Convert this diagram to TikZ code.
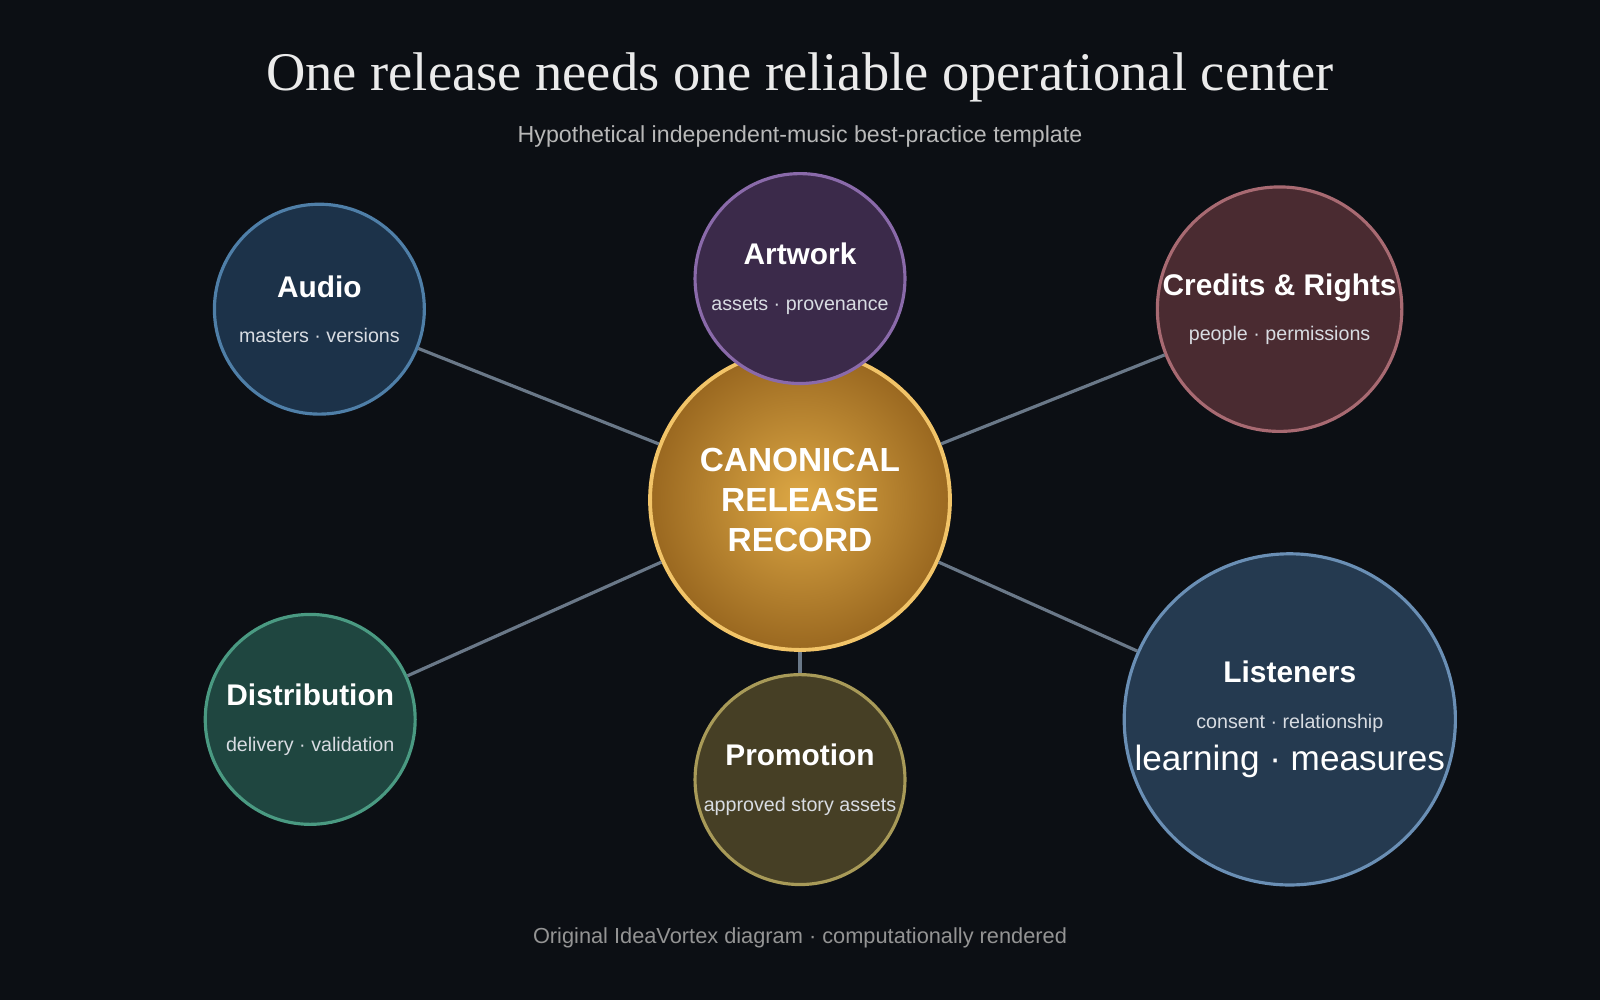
\documentclass[tikz,border=0pt]{standalone}
\usepackage{fontspec}
\setmainfont{Liberation Serif}
\setsansfont{Liberation Sans}
\usetikzlibrary{positioning}
\definecolor{bgdark}{HTML}{0C0F14}
\definecolor{spoke}{HTML}{6A7888}
\definecolor{audiofill}{HTML}{1C3249}\definecolor{audiodraw}{HTML}{4F7FA8}
\definecolor{artfill}{HTML}{3B2A4A}\definecolor{artdraw}{HTML}{8A6AAA}
\definecolor{credfill}{HTML}{4A2B31}\definecolor{creddraw}{HTML}{A86A72}
\definecolor{distfill}{HTML}{1F4640}\definecolor{distdraw}{HTML}{4A9A82}
\definecolor{promofill}{HTML}{463F25}\definecolor{promodraw}{HTML}{A89A58}
\definecolor{listfill}{HTML}{253A50}\definecolor{listdraw}{HTML}{6A8FB5}
\definecolor{coreinner}{HTML}{DDA845}
\definecolor{coreouter}{HTML}{9A6820}
\definecolor{coredraw}{HTML}{F2C468}
\definecolor{subtext}{HTML}{D8DCE2}
\tikzset{
  satellite/.style 2 args= {
    circle,
    draw = #2,
    fill = #1,
    line width = 0.9pt,
    minimum size = 2.1cm,
    inner sep = 0pt,
    align = center,
    text = white,
    font = \sffamily
  },
  core/.style= {
    circle,
    draw = coredraw,
    line width = 1.1pt,
    inner color = coreinner,
    outer color = coreouter,
    minimum size = 3cm,
    inner sep = 0pt,
    align = center,
    text = white,
    font = \sffamily\bfseries\fontsize{9.5pt}{11.5pt}\selectfont
  },
  spokeline/.style= {
    draw = spoke,
    line width = 0.9pt
  }
}
\newcommand{\sattext}[2]{\textbf{\fontsize{8.5pt}{10pt}\selectfont #1}\\[1pt]\fontsize{5.6pt}{9pt}\selectfont\color{subtext}#2}

\begin{document}
\begin{tikzpicture}[x=0.010204cm,y=-0.010204cm]
  \fill[bgdark] (0,0) rectangle (1568,980);
  \useasboundingbox (0,0) rectangle (1568,980);

  \node[text=white!92!black,font=\fontsize{15.5pt}{18pt}\selectfont] (title) at (784,76) {One release needs one reliable operational center};
  \node[text=white!72!black,font=\sffamily\fontsize{6.6pt}{8pt}\selectfont] (subtitle) at (784,134) {Hypothetical independent-music best-practice template};
  \node[text=white!58!black,font=\sffamily\fontsize{6.2pt}{8pt}\selectfont] (footer) at (784,919) {Original IdeaVortex diagram · computationally rendered};

  \node[core] (center) at (784,490) {CANONICAL\\RELEASE\\RECORD};

  \node[satellite={audiofill}{audiodraw}] (audio) at (313,303) {\sattext{Audio}{masters · versions}};
  \node[satellite={credfill}{creddraw}] (credits) at (1254,303) {\sattext{Credits \& Rights}{people · permissions}};
  \node[satellite={distfill}{distdraw}] (distribution) at (304,705) {\sattext{Distribution}{delivery · validation}};
  \node[satellite={promofill}{promodraw}] (promotion) at (784,764) {\sattext{Promotion}{approved story assets}};
  \node[satellite={listfill}{listdraw}] (listeners) at (1264,705) {\sattext{Listeners}{consent · relationship\\learning · measures}};
  % artwork overlaps the core circle
  \node[satellite={artfill}{artdraw}] (artwork) at (784,273) {\sattext{Artwork}{assets · provenance}};

  \foreach \sat in {audio,credits,distribution,promotion,listeners}
    \draw[spokeline] (center) -- (\sat);

\end{tikzpicture}
\end{document}
